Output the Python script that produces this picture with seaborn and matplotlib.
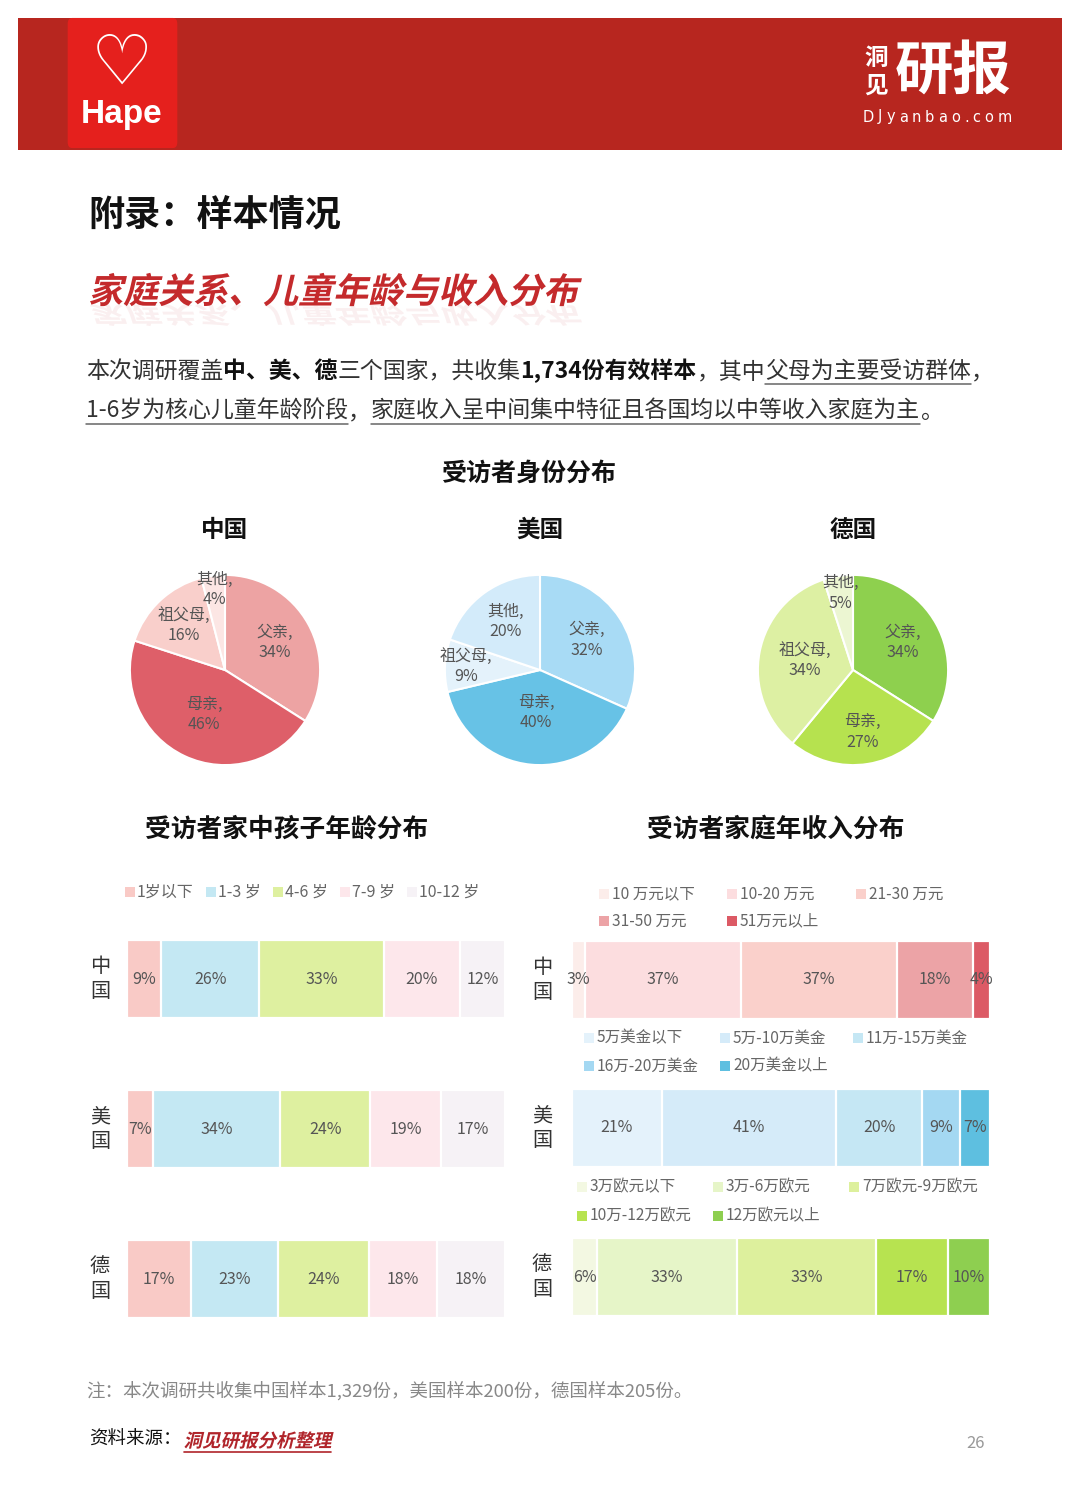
import numpy as np
import matplotlib
matplotlib.use('Agg')
import matplotlib.pyplot as plt
import seaborn as sns
from matplotlib.patches import Rectangle, PathPatch, FancyBboxPatch
from matplotlib.lines import Line2D
from matplotlib.textpath import TextPath
from matplotlib.font_manager import FontProperties
import matplotlib.transforms as mtransforms

# ---- data ----
pie_countries = ['中国', '美国', '德国']
pie_roles = ['父亲', '母亲', '祖父母', '其他']
pie_cn = [34, 46, 16, 4]
pie_us = [32, 40, 9, 20]
pie_de = [34, 27, 34, 5]

bar_countries = ['中国', '美国', '德国']
age_groups = ['1岁以下', '1-3 岁', '4-6 岁', '7-9 岁', '10-12 岁']
age_cn = [9, 26, 33, 20, 12]
age_us = [7, 34, 24, 19, 17]
age_de = [17, 23, 24, 18, 18]

income_cn_labels = ['10 万元以下', '10-20 万元', '21-30 万元', '31-50 万元', '51万元以上']
income_cn = [3, 37, 37, 18, 4]
income_us_labels = ['5万美金以下', '5万-10万美金', '11万-15万美金', '16万-20万美金', '20万美金以上']
income_us = [21, 41, 20, 9, 7]
income_de_labels = ['3万欧元以下', '3万-6万欧元', '7万欧元-9万欧元', '10万-12万欧元', '12万欧元以上']
income_de = [6, 33, 33, 17, 10]

# ---- colours ----
pie_cols = [['#EDA3A3', '#DE5F69', '#F9CFCB', '#FCE6E4'],
            ['#A8DBF5', '#67C2E6', '#E4F2FB', '#D3EBFA'],
            ['#8ED04E', '#B6E24F', '#DDF0A3', '#ECF6D2']]
age_cols = ['#F9CAC6', '#C4E8F3', '#DEF0A0', '#FDE7EB', '#F6F2F6']
inc_cn_cols = ['#FCEDEA', '#FCDDDF', '#FAD0CB', '#ECA3A6', '#DC5A65']
inc_us_cols = ['#E4F2FB', '#D5EBF9', '#C5E7F4', '#A4D8F2', '#5EBFE0']
inc_de_cols = ['#F3F8E2', '#E6F5C8', '#DDF09D', '#B7E350', '#8ECF50']

sns.set_theme(style='white')
plt.rcParams['font.family'] = ['Noto Sans CJK SC', 'DejaVu Sans']

W, H = 1080, 1512
fig = plt.figure(figsize=(W / 100, H / 100), dpi=100)
fig.patch.set_facecolor('white')
rend = fig.canvas.get_renderer()


def fx(x):
    return x / W


def fy(y):
    return 1 - y / H


def ftext(x, y, s, **kw):
    return fig.text(fx(x), fy(y), s, **kw)


def slanted(x, ybase, s, size, color, alpha=1.0, flip=False, skew=13):
    fp = FontProperties(family='Noto Sans CJK SC', weight='bold')
    tp = TextPath((0, 0), s, size=size, prop=fp)
    tr = mtransforms.Affine2D().skew_deg(skew, 0)
    if flip:
        tr = tr.scale(1, -0.7)
    tr = tr.translate(x, H - ybase)
    fig.add_artist(PathPatch(tp, transform=tr, facecolor=color, edgecolor='none', alpha=alpha))
    return tp.get_extents().x1


# ---- header banner ----
fig.add_artist(Rectangle((fx(18), fy(150)), (1062 - 18) / W, 132 / H, transform=fig.transFigure,
                         facecolor='#B7261F', edgecolor='none'))
fig.add_artist(FancyBboxPatch((fx(72), fy(142)), 101 / W, 118 / H, transform=fig.transFigure,
                              boxstyle='round,pad=0.004', facecolor='#E5201D', edgecolor='none'))
ftext(122, 64, '♡', fontsize=50, color='white', ha='center', va='center',
      family='DejaVu Sans', fontweight='bold')
ftext(122, 115, 'Hape', fontsize=24, color='white', ha='center', va='center',
      family='Liberation Sans', fontweight='bold')
ftext(876, 58, '洞', fontsize=17, color='white', ha='center', va='center', fontweight='bold')
ftext(876, 86, '见', fontsize=17, color='white', ha='center', va='center', fontweight='bold')
ftext(953, 72, '研报', fontsize=42, color='white', ha='center', va='center', fontweight='bold')
cx = 863
for ch in 'DJyanbao.com':
    t = ftext(cx, 117, ch, fontsize=10.5, color='white', ha='left', va='center', family='DejaVu Sans')
    cx = t.get_window_extent(rend).x1 + 3.9

# ---- titles ----
ftext(88, 215, '附录：样本情况', fontsize=26, fontweight='bold', color='#111', ha='left', va='center')
slanted(88, 303, '家庭关系、儿童年龄与收入分布', 35, '#C42A2C')
slanted(88, 305, '家庭关系、儿童年龄与收入分布', 35, '#C42A2C', alpha=0.07, flip=True)


def runs_line(x, ybase, runs, size=16.5):
    for s, bold, under in runs:
        t = ftext(x, ybase, s, fontsize=size, fontweight='bold' if bold else 'normal',
                  color='#111' if bold else '#333', ha='left', va='baseline')
        bb = t.get_window_extent(rend)
        if under:
            fig.add_artist(Line2D([bb.x0 / W, bb.x1 / W], [fy(ybase + 6)] * 2, color='#666', lw=1.1))
        x = bb.x1


runs_line(86, 378, [('本次调研覆盖', False, False), ('中、美、德', True, False), ('三个国家，共收集', False, False),
                    ('1,734份有效样本', True, False), ('，其中', False, False),
                    ('父母为主要受访群体', False, True), ('，', False, False)])
runs_line(86, 418, [('1-6岁为核心儿童年龄阶段', False, True), ('，', False, False),
                    ('家庭收入呈中间集中特征且各国均以中等收入家庭为主', False, True), ('。', False, False)])

# ---- pies ----
ftext(529, 474, '受访者身份分布', fontsize=18, fontweight='bold', color='#111', ha='center', va='center')
pie_vals = [pie_cn, pie_us, pie_de]
pie_cx = [225, 540, 853]
label_dist = [[0.6, 0.52, 0.64, 0.85], [0.58, 0.45, 0.78, 0.63], [0.6, 0.66, 0.52, 0.82]]
R = 97
for i, name in enumerate(pie_countries):
    ftext(pie_cx[i], 530, name, fontsize=17, fontweight='bold', color='#111', ha='center', va='center')
    ax = fig.add_axes([fx(pie_cx[i] - R), fy(670 + R), 2 * R / W, 2 * R / H])
    labels = [f'{r},\n{v}%' for r, v in zip(pie_roles, pie_vals[i])]
    wedges, texts = ax.pie(pie_vals[i], labels=labels, colors=pie_cols[i], startangle=90,
                           counterclock=False, wedgeprops=dict(edgecolor='white', linewidth=1.5),
                           textprops=dict(fontsize=11.5, color='#555', linespacing=1.25))
    for w, t, d in zip(wedges, texts, label_dist[i]):
        a = np.deg2rad((w.theta1 + w.theta2) / 2)
        t.set_position((d * np.cos(a), d * np.sin(a)))
        t.set_ha('center')
        t.set_va('center')
    ax.set_xlim(-1.02, 1.02)
    ax.set_ylim(-1.02, 1.02)


# ---- stacked bars ----
def stacked_bar(x0, x1, ytop, vals, colors, label, hgt=78):
    ax = fig.add_axes([fx(x0), fy(ytop + hgt), (x1 - x0) / W, hgt / H])
    cum = np.cumsum(vals)
    for k in range(len(vals) - 1, -1, -1):
        sns.barplot(x=[cum[k]], y=[label], color=colors[k], saturation=1, width=1, errorbar=None,
                    edgecolor='white', linewidth=1.6, orient='y', ax=ax)
    ax.set_xlim(0, cum[-1])
    ax.set_ylim(0.5, -0.5)
    ax.axis('off')
    for v, c in zip(vals, cum):
        ax.text(c - v / 2, 0, f'{v}%', ha='center', va='center', fontsize=11.5, color='#555')


def country_label(x, yc, name):
    ftext(x, yc, '\n'.join(name), fontsize=14.5, color='#333', ha='center', va='center', linespacing=1.2)


def legend_flow(x, y, labels, colors, gap=12):
    for lab, col in zip(labels, colors):
        fig.add_artist(Rectangle((fx(x), fy(y + 5)), 10 / W, 10 / H, transform=fig.transFigure,
                                 facecolor=col, edgecolor='none'))
        t = ftext(x + 12, y, lab, fontsize=11.5, color='#666', ha='left', va='center')
        x = t.get_window_extent(rend).x1 + gap


def legend_grid(xs, ys, labels, colors):
    for j, (lab, col) in enumerate(zip(labels, colors)):
        x, y = xs[j % 3], ys[j // 3]
        fig.add_artist(Rectangle((fx(x - 5), fy(y + 5)), 10 / W, 10 / H, transform=fig.transFigure,
                                 facecolor=col, edgecolor='none'))
        ftext(x + 8, y, lab, fontsize=11.2, color='#666', ha='left', va='center')


ftext(287, 829, '受访者家中孩子年龄分布', fontsize=18.5, fontweight='bold', color='#111', ha='center', va='center')
ftext(776, 829, '受访者家庭年收入分布', fontsize=18.5, fontweight='bold', color='#111', ha='center', va='center')

legend_flow(125, 892, age_groups, age_cols)
age_vals = [age_cn, age_us, age_de]
tops = [940, 1090, 1240]
for name, vals, top in zip(bar_countries, age_vals, tops):
    stacked_bar(127, 505, top, vals, age_cols, name)
    country_label(100, top + 39, name)

inc_vals = [income_cn, income_us, income_de]
inc_labels = [income_cn_labels, income_us_labels, income_de_labels]
inc_cols = [inc_cn_cols, inc_us_cols, inc_de_cols]
inc_tops = [941, 1089, 1238]
leg_xs = [[604, 732, 861], [589, 725, 858], [582, 718, 854]]
leg_ys = [[894, 921], [1038, 1066], [1187, 1216]]
for i, name in enumerate(bar_countries):
    legend_grid(leg_xs[i], leg_ys[i], inc_labels[i], inc_cols[i])
    stacked_bar(572, 990, inc_tops[i], inc_vals[i], inc_cols[i], name)
    country_label(542, inc_tops[i] + 39, name)

# ---- footer ----
ftext(86, 1391, '注：本次调研共收集中国样本1,329份，美国样本200份，德国样本205份。', fontsize=13.3,
      color='#888', ha='left', va='center')
t = ftext(89, 1440, '资料来源：', fontsize=13.3, color='#111', ha='left', va='center')
sx = t.get_window_extent(rend).x1
ex = slanted(sx + 2, 1447, '洞见研报分析整理', 18.5, '#B0242A')
fig.add_artist(Line2D([fx(sx + 2), fx(sx + 2 + ex)], [fy(1452)] * 2, color='#B0242A', lw=1.2))
ftext(976, 1443, '26', fontsize=12, color='#999', ha='center', va='center')

fig.savefig('out.png', dpi=100, facecolor='white')
